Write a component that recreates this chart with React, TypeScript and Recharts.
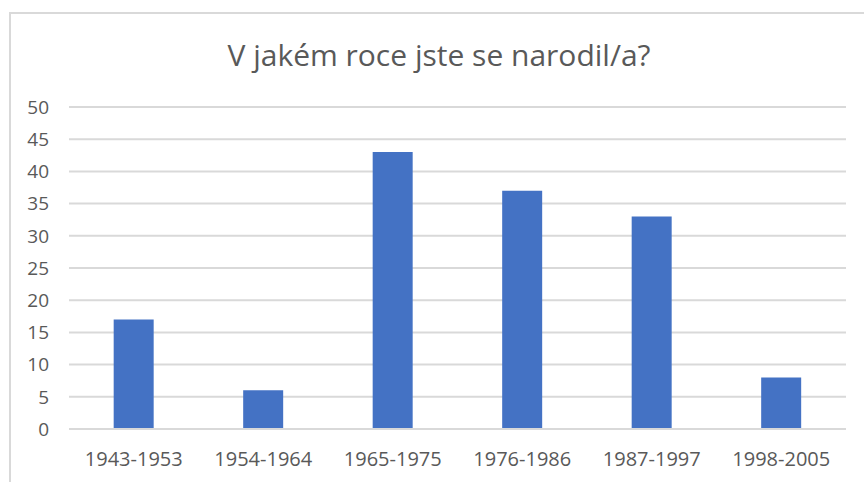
import { Bar, BarChart, CartesianGrid, XAxis, YAxis } from 'recharts';

const categories = ['1943-1953', '1954-1964', '1965-1975', '1976-1986', '1987-1997', '1998-2005'];
const counts = [17, 6, 43, 37, 33, 8];
const yTicks = [0, 5, 10, 15, 20, 25, 30, 35, 40, 45, 50];

const data = categories.map((c, i) => ({ name: c, value: counts[i] }));

const FONT = '"Open Sans", "Noto Sans", sans-serif';
const TEXT = '#595959';
const GRID = '#d9d9d9';

export default function App() {
  return (
    <div style={{ position: 'absolute', left: 0, top: 0, width: 864, height: 482, background: '#fff', overflow: 'hidden' }}>
      {/* chart frame, only left/top edges visible */}
      <div
        style={{
          position: 'absolute',
          left: 9,
          top: 12,
          width: 900,
          height: 520,
          borderLeft: `2px solid ${GRID}`,
          borderTop: `2px solid ${GRID}`,
        }}
      />
      <div
        style={{
          position: 'absolute',
          left: 0,
          top: 40,
          width: 878,
          textAlign: 'center',
          fontFamily: FONT,
          fontSize: 30,
          lineHeight: '30px',
          color: TEXT,
        }}
      >
        V jakém roce jste se narodil/a?
      </div>
      <div style={{ position: 'absolute', left: 0, top: 0 }}>
        <BarChart
          width={864}
          height={482}
          data={data}
          margin={{ top: 107, right: 18, bottom: 23, left: 0 }}
          barCategoryGap="34.5%"
        >
          <CartesianGrid vertical={false} stroke={GRID} strokeWidth={2} />
          <XAxis
            dataKey="name"
            height={30}
            tickLine={false}
            tickSize={0}
            tickMargin={23}
            axisLine={{ stroke: GRID, strokeWidth: 2 }}
            tick={{ fill: TEXT, fontSize: 20, fontFamily: FONT }}
            interval={0}
          />
          <YAxis
            width={69}
            domain={[0, 50]}
            ticks={yTicks}
            interval={0}
            axisLine={false}
            tickLine={false}
            tickSize={0}
            tickMargin={20}
            tick={{ fill: TEXT, fontSize: 19, fontFamily: FONT }}
          />
          <Bar dataKey="value" fill="#4472C4" isAnimationActive={false} />
        </BarChart>
      </div>
    </div>
  );
}
